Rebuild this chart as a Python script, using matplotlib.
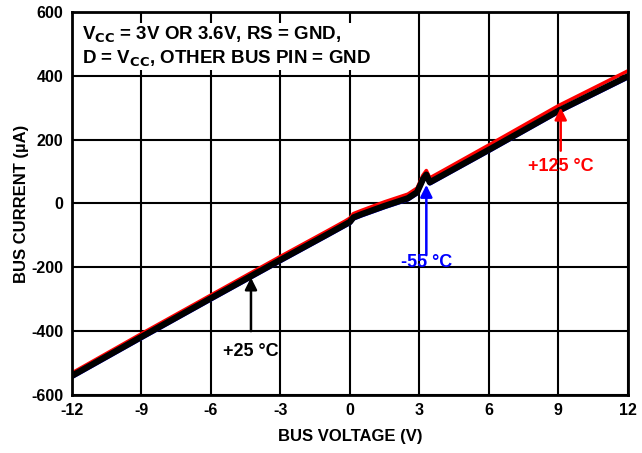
import matplotlib
matplotlib.use("Agg")
import matplotlib.pyplot as plt

plt.rcParams['font.family'] = ['Liberation Sans', 'DejaVu Sans']
plt.rcParams['font.weight'] = 'bold'

# +25 C (black)
v25 = [-12, -9, -6, -3, -1, -0.2, 0, 0.15, 0.5, 1.5, 2.5, 2.9, 3.15, 3.3, 3.45, 4, 6, 9, 12]
i25 = [-540, -418, -297, -177, -98, -66, -58, -44, -34, -8, 16, 35, 75, 90, 66, 88, 168, 290, 398]
# +125 C (red)
v125 = [-12, -9, -6, -3, -1, -0.2, 0, 0.15, 0.5, 1.5, 2.5, 2.9, 3.15, 3.3, 3.45, 4, 6, 9, 12]
i125 = [-531, -408, -287, -166, -87, -55, -46, -32, -22, 5, 29, 48, 88, 103, 80, 102, 183, 306, 415]
# -55 C (blue)
v55 = [-12, -9, -6, -3, -1, -0.2, 0, 0.15, 0.5, 1.5, 2.5, 2.9, 3.15, 3.3, 3.45, 4, 6, 9, 12]
i55 = [-544, -422, -301, -181, -102, -70, -62, -48, -38, -12, 12, 31, 71, 86, 62, 84, 164, 286, 394]

xticks = [-12, -9, -6, -3, 0, 3, 6, 9, 12]
yticks = [-600, -400, -200, 0, 200, 400, 600]

fig = plt.figure(figsize=(6.42, 4.53), dpi=100)
ax = fig.add_axes([0.112, 0.128, 0.866, 0.846])

ax.plot(v55, i55, color='#0000ff', lw=3, zorder=3)
ax.plot(v125, i125, color='#ff0000', lw=2.5, zorder=3.5)
ax.plot(v25, i25, color='black', lw=4.5, zorder=4)

ax.set_xlim(-12, 12)
ax.set_ylim(-600, 600)
ax.set_xticks(xticks)
ax.set_yticks(yticks)
ax.set_xticklabels([str(t) for t in xticks], fontsize=11.5, fontweight='bold')
ax.set_yticklabels([str(t) for t in yticks], fontsize=11.5, fontweight='bold')
ax.tick_params(length=0, pad=6)
ax.grid(True, color='black', lw=1.5, zorder=1)
for s in ax.spines.values():
    s.set_linewidth(2)
    s.set_zorder(6)

ax.set_xlabel('BUS VOLTAGE (V)', fontsize=12, fontweight='bold', labelpad=8)
ax.set_ylabel('BUS CURRENT (µA)', fontsize=12, fontweight='bold', labelpad=2)

ax.text(-11.57, 560, 'V$_{\\mathbf{CC}}$ = 3V OR 3.6V, RS = GND,\nD = V$_{\\mathbf{CC}}$, OTHER BUS PIN = GND',
        fontsize=13.5, fontweight='bold', va='top', ha='left', linespacing=1.25,
        bbox=dict(facecolor='white', edgecolor='none', pad=1), zorder=5)

def arrow(x, y0, y1, color, label, ty):
    ax.annotate('', xy=(x, y1), xytext=(x, y0),
                arrowprops=dict(arrowstyle='-|>', color=color, lw=1.8,
                                mutation_scale=18, shrinkA=0, shrinkB=0), zorder=7)
    ax.text(x, ty, label, color=color, fontsize=13, fontweight='bold',
            ha='center', va='baseline', zorder=7)

arrow(9.1, 165, 300, '#ff0000', '+125 °C', 100)
arrow(3.3, -162, 58, '#0000ff', '-55 °C', -200)
arrow(-4.27, -400, -232, 'black', '+25 °C', -478)

fig.savefig('out.png', dpi=100)
